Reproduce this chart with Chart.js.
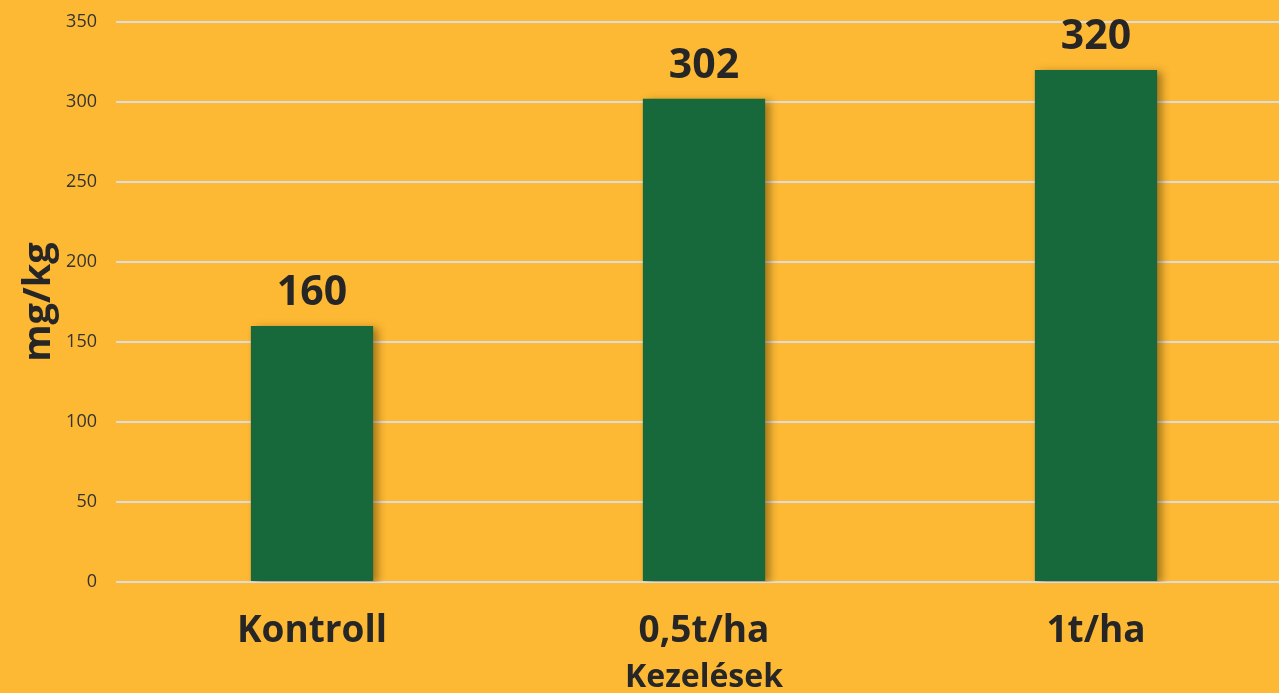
<!DOCTYPE html>
<html>
<head>
<meta charset="utf-8">
<script src="https://cdn.jsdelivr.net/npm/chart.js@4.4.1/dist/chart.umd.min.js"></script>
<style>
  html, body { margin: 0; padding: 0; background: #FDB933; overflow: hidden; }
  #wrap { width: 1300px; height: 693px; }
</style>
</head>
<body>
<div id="wrap"><canvas id="c" width="1300" height="693"></canvas></div>
<script>
const categories = ["Kontroll", "0,5t/ha", "1t/ha"];
const values = [160, 302, 320];
const yTicks = [0, 50, 100, 150, 200, 250, 300, 350];
const xTitle = "Kezelések";
const yTitle = "mg/kg";

const BG = "#FDB933";
const GREEN = "#17683A";
const TEXT = "#262626";
const BOLD_FONT = "'Open Sans', 'DejaVu Sans', sans-serif";

const bgPlugin = {
  id: "bg",
  beforeDraw(chart) {
    const ctx = chart.ctx;
    ctx.save();
    ctx.fillStyle = BG;
    ctx.fillRect(0, 0, chart.width, chart.height);
    ctx.restore();
  }
};

const shadowPlugin = {
  id: "barShadow",
  beforeDatasetDraw(chart) {
    const ctx = chart.ctx;
    ctx.save();
    ctx.shadowColor = "rgba(60,40,0,0.45)";
    ctx.shadowBlur = 8;
    ctx.shadowOffsetX = 5;
    ctx.shadowOffsetY = 2;
  },
  afterDatasetDraw(chart) {
    chart.ctx.restore();
  }
};

const labelPlugin = {
  id: "valueLabels",
  afterDatasetsDraw(chart) {
    const ctx = chart.ctx;
    const meta = chart.getDatasetMeta(0);
    ctx.save();
    ctx.fillStyle = TEXT;
    ctx.font = "bold 41px " + BOLD_FONT;
    ctx.textAlign = "center";
    ctx.textBaseline = "alphabetic";
    meta.data.forEach((bar, i) => {
      ctx.fillText(String(values[i]), bar.x, bar.y - 21);
    });
    ctx.restore();
  }
};

new Chart(document.getElementById("c"), {
  type: "bar",
  data: {
    labels: categories,
    datasets: [{
      data: values,
      backgroundColor: GREEN,
      borderWidth: 0,
      categoryPercentage: 1.0,
      barPercentage: 0.312
    }]
  },
  options: {
    responsive: false,
    animation: false,
    devicePixelRatio: 1,
    layout: { padding: { left: 20, right: 8, top: 22, bottom: 0 } },
    plugins: {
      legend: { display: false },
      tooltip: { enabled: false }
    },
    scales: {
      x: {
        grid: { display: false, drawTicks: false },
        border: { display: false },
        ticks: {
          color: TEXT,
          font: { family: BOLD_FONT, size: 37, weight: "bold" },
          padding: 27,
          maxRotation: 0
        },
        title: {
          display: true,
          text: xTitle,
          color: TEXT,
          font: { family: BOLD_FONT, size: 32, weight: "bold", lineHeight: 1.0 },
          padding: { top: 0, bottom: -1 }
        },
        afterFit(scale) { scale.height = 111; }
      },
      y: {
        min: 0,
        max: 350,
        afterBuildTicks(scale) { scale.ticks = yTicks.map(v => ({ value: v })); },
        grid: { color: "#DCDCDC", lineWidth: 2, drawTicks: true, tickLength: 19, tickColor: "rgba(0,0,0,0)" },
        border: { display: false },
        ticks: {
          color: "#333333",
          font: { family: "'Open Sans', sans-serif", size: 18 },
          padding: 0
        },
        title: {
          display: true,
          text: yTitle,
          color: TEXT,
          font: { family: BOLD_FONT, size: 38, weight: "bold", lineHeight: 1.0 },
          padding: { top: 0, bottom: 0 }
        },
        afterFit(scale) { scale.width = 96; }
      }
    }
  },
  plugins: [bgPlugin, shadowPlugin, labelPlugin]
});
</script>
</body>
</html>
